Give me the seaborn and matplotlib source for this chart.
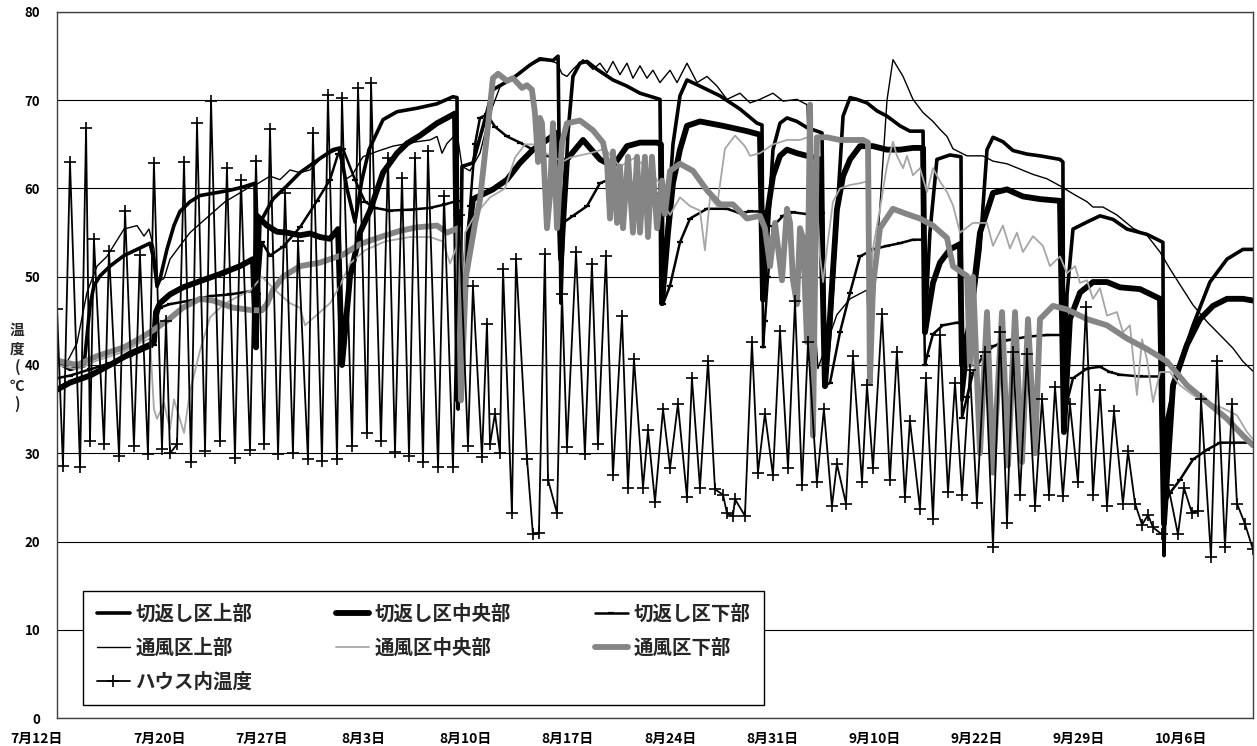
import matplotlib
matplotlib.use("Agg")
import matplotlib.pyplot as plt
import matplotlib.transforms as mtransforms
import pandas as pd
import seaborn as sns

# ---------------- data (x = days from the first record, y = temperature in degC) ----------------
DATE_LABELS = ["7月12日", "7月20日", "7月27日", "8月3日", "8月10日", "8月17日",
               "8月24日", "8月31日", "9月10日", "9月22日", "9月29日", "10月6日"]
TICK_DAYS = [0, 7, 14, 21, 28, 35, 42, 49, 56, 63, 70, 77]

NAMES = ["切返し区上部", "切返し区中央部", "切返し区下部",
         "通風区上部", "通風区中央部", "通風区下部", "ハウス内温度"]

A_DAY = [0.00, 0.89, 1.85, 2.26, 2.53, 2.95, 3.63, 4.59, 5.48, 6.37, 6.64, 6.85, 7.05, 7.53, 8.01, 8.42,
         9.11, 9.79, 10.48, 11.85, 12.81, 13.56, 13.63, 13.70, 13.90, 14.79, 15.75, 16.64, 18.01, 18.90,
         19.38, 19.86, 20.41, 20.89, 21.37, 22.33, 23.29, 24.66, 26.03, 27.12, 27.40, 27.47, 27.60, 27.74,
         28.49, 29.18, 29.86, 31.23, 32.40, 33.08, 33.97, 34.32, 34.52, 34.66, 35.00, 35.34, 35.82, 36.30,
         36.99, 38.08, 39.04, 39.93, 41.30, 41.44, 41.78, 42.19, 42.67, 43.15, 44.04, 45.41, 46.78, 47.95,
         48.29, 48.36, 48.63, 49.04, 49.52, 50.00, 50.68, 51.37, 52.40, 52.60, 52.95, 53.42, 53.84, 54.32,
         54.79, 55.48, 56.16, 56.85, 57.74, 58.42, 59.32, 59.45, 59.79, 60.27, 61.16, 61.92, 61.99, 62.40,
         63.22, 63.70, 64.11, 64.79, 65.48, 66.44, 67.33, 68.70, 68.90, 68.97, 69.18, 69.59, 70.55, 71.44,
         72.33, 73.29, 74.66, 75.75, 75.82, 76.03, 76.71, 77.81, 78.97, 80.14, 81.23, 81.92]
A_TEMP = [40.3, 39.5, 39.9, 46.7, 49.0, 50.1, 51.2, 52.4, 53.1, 53.8, 51.9, 48.9, 49.7, 53.1, 55.8, 57.4,
          58.5, 59.2, 59.4, 59.8, 60.2, 60.6, 42.0, 45.0, 56.1, 58.8, 60.3, 61.8, 63.4, 64.4,
          64.6, 60.0, 56.2, 61.0, 64.4, 67.8, 68.7, 69.1, 69.6, 70.4, 70.3, 35.0, 45.0, 62.5,
          62.9, 67.0, 71.2, 72.5, 74.0, 74.7, 74.5, 75.0, 47.0, 55.0, 66.3, 72.7, 74.2, 74.4,
          73.5, 72.3, 71.6, 70.8, 70.1, 47.0, 55.0, 65.0, 70.5, 72.3, 71.6, 70.5, 69.0, 67.4,
          67.2, 47.4, 53.1, 64.4, 67.4, 68.0, 67.6, 66.9, 66.3, 37.6, 43.7, 56.9, 68.2, 70.3,
          70.1, 69.7, 68.8, 68.2, 67.1, 66.5, 66.5, 43.7, 55.0, 63.3, 63.8, 63.6, 36.0, 42.0,
          53.1, 64.4, 65.8, 65.3, 64.3, 63.9, 63.7, 63.3, 63.0, 32.4, 48.0, 55.4, 56.2, 56.9,
          56.5, 55.4, 54.8, 53.9, 18.4, 33.9, 39.2, 44.5, 49.4, 52.0, 53.1, 53.1]

B_DAY = [0.00, 0.89, 2.26, 3.63, 5.00, 6.37, 6.64, 6.78, 7.05, 7.74, 8.63, 9.79, 11.16, 12.53, 13.42, 13.63,
         13.70, 14.38, 15.07, 15.75, 16.64, 17.33, 18.01, 18.70, 19.25, 19.52, 20.07, 20.75, 21.44, 22.33,
         23.29, 23.97, 24.86, 26.03, 26.71, 27.26, 27.47, 27.74, 28.01, 28.49, 29.86, 30.82, 31.71, 32.60,
         33.56, 34.25, 34.52, 34.73, 34.93, 36.03, 37.19, 38.08, 39.04, 39.93, 41.10, 41.37, 41.44, 41.85,
         42.19, 42.67, 43.15, 44.04, 45.62, 47.26, 48.15, 48.36, 48.63, 49.04, 49.52, 50.00, 50.68, 51.37,
         52.26, 52.60, 52.95, 53.42, 53.84, 54.32, 55.00, 55.89, 56.85, 57.74, 58.63, 59.32, 59.45, 60.00,
         60.48, 61.16, 61.85, 61.99, 62.53, 63.22, 64.11, 65.07, 66.16, 67.33, 68.70, 68.97, 69.38, 70.07,
         70.96, 71.92, 72.81, 74.18, 75.55, 75.82, 76.44, 77.40, 78.29, 79.18, 80.14, 81.23, 81.92]
B_TEMP = [37.2, 38.0, 38.8, 40.0, 41.3, 42.3, 42.6, 46.0, 47.0, 48.0, 48.8, 49.5, 50.3, 51.2, 52.0, 42.0,
          56.9, 55.8, 55.1, 55.0, 54.7, 54.9, 54.5, 54.3, 55.4, 40.0, 50.0, 55.0, 57.5, 61.8,
          64.0, 65.1, 66.0, 67.4, 68.0, 68.5, 36.0, 45.0, 52.0, 58.8, 59.9, 61.0, 62.9, 64.4,
          65.5, 66.3, 52.0, 58.0, 63.3, 65.5, 63.3, 62.5, 64.8, 65.2, 65.2, 65.0, 47.0, 55.0,
          60.6, 64.4, 67.1, 67.6, 67.1, 66.5, 66.1, 47.4, 56.9, 61.4, 63.7, 64.4, 64.0, 63.7,
          63.3, 37.6, 45.5, 57.6, 61.4, 63.3, 64.8, 64.8, 64.4, 64.4, 64.6, 64.6, 43.7, 49.3,
          51.6, 53.1, 53.7, 40.0, 45.0, 55.0, 59.5, 59.9, 59.1, 58.8, 58.6, 32.4, 45.2, 48.2,
          49.4, 49.4, 48.8, 48.6, 47.5, 22.0, 37.7, 42.3, 45.2, 46.7, 47.5, 47.5, 47.3]

C_DAY = [0.00, 0.89, 2.26, 3.63, 5.00, 6.37, 6.64, 6.78, 7.05, 7.74, 9.11, 10.48, 11.85, 13.42, 13.63, 13.77,
         14.04, 14.59, 15.48, 16.64, 17.81, 18.70, 19.25, 19.59, 20.41, 21.10, 21.78, 22.81, 24.18, 25.55,
         26.58, 27.40, 27.47, 27.74, 28.01, 28.29, 28.63, 28.97, 29.45, 30.00, 30.82, 31.71, 32.60, 33.56,
         34.32, 34.52, 34.66, 35.34, 36.30, 37.19, 38.08, 39.04, 39.93, 40.82, 41.37, 41.44, 41.51, 41.99,
         42.67, 43.36, 44.52, 45.89, 46.78, 47.47, 48.29, 48.36, 48.49, 48.70, 49.04, 49.73, 50.41, 51.37,
         52.40, 52.60, 52.95, 53.63, 54.32, 55.00, 55.89, 56.85, 57.74, 58.63, 59.32, 59.45, 59.59, 60.00,
         60.68, 61.64, 61.92, 61.99, 62.33, 62.74, 63.42, 64.11, 65.07, 66.44, 67.81, 68.84, 68.97, 69.18,
         69.59, 70.55, 71.44, 72.12, 72.81, 74.18, 75.68, 75.82, 76.23, 76.92, 77.81, 78.77, 79.66, 80.55,
         81.92]
C_TEMP = [38.5, 38.8, 39.5, 40.2, 41.0, 42.0, 42.3, 45.0, 46.5, 46.9, 47.3, 47.8, 48.0, 48.4, 42.0, 48.0,
          53.9, 52.4, 53.4, 55.6, 58.6, 61.0, 63.9, 64.5, 61.0, 58.5, 57.8, 57.5, 57.6, 57.8,
          58.2, 58.6, 36.0, 40.0, 50.0, 58.0, 65.0, 68.0, 68.4, 67.0, 65.9, 65.2, 64.4, 63.7,
          63.5, 55.0, 56.1, 56.9, 58.0, 60.6, 61.2, 60.8, 60.3, 59.7, 59.1, 47.0, 46.9, 49.0,
          53.9, 56.6, 57.7, 57.7, 57.2, 57.4, 57.4, 42.0, 45.0, 50.0, 55.7, 56.9, 57.3, 57.1,
          57.2, 37.6, 38.0, 43.7, 48.2, 52.3, 53.1, 53.5, 53.8, 54.2, 54.2, 40.0, 41.0, 43.5,
          44.5, 44.8, 44.8, 34.0, 36.4, 39.1, 41.0, 42.1, 42.8, 43.2, 43.4, 43.4, 33.0, 35.8,
          38.5, 39.6, 39.8, 39.2, 38.9, 38.7, 38.7, 24.0, 25.5, 27.0, 29.3, 30.4, 31.2, 31.2,
          31.2]

VU_DAY = [0.00, 0.68, 1.37, 2.05, 2.74, 3.42, 4.59, 5.48, 5.96, 6.30, 6.64, 6.85, 7.33, 7.74, 8.42, 9.11,
          9.79, 10.48, 11.51, 12.53, 13.22, 13.70, 14.59, 15.27, 15.96, 16.64, 17.33, 18.01, 18.70, 19.25,
          19.73, 20.21, 20.96, 21.92, 23.01, 24.66, 25.55, 26.03, 26.37, 26.71, 27.40, 27.74, 28.29, 28.97,
          29.66, 30.34, 31.03, 31.71, 32.40, 33.08, 33.77, 34.25, 34.59, 34.93, 35.34, 36.03, 36.71, 37.19,
          37.67, 38.08, 38.56, 39.04, 39.45, 39.93, 40.41, 40.82, 41.30, 41.99, 42.47, 43.15, 43.84, 44.52,
          45.21, 45.89, 46.78, 47.47, 48.15, 49.04, 49.73, 50.68, 51.37, 51.71, 52.12, 53.42, 54.32, 55.48,
          55.68, 56.37, 56.85, 57.26, 57.95, 58.63, 59.32, 60.00, 60.48, 60.96, 61.37, 62.33, 63.42, 64.11,
          65.07, 65.96, 66.85, 67.81, 68.70, 69.59, 70.55, 70.96, 71.64, 72.60, 73.70, 74.66, 75.55, 76.23,
          76.92, 77.81, 78.77, 79.66, 80.55, 81.23, 81.92]
VU_TEMP = [39.9, 40.3, 42.5, 48.2, 51.2, 52.3, 55.4, 55.8, 54.6, 55.4, 53.2, 49.4, 49.8, 52.0, 53.5, 55.0,
           56.0, 57.0, 58.5, 59.5, 60.2, 60.5, 61.4, 61.0, 62.1, 61.8, 62.1, 63.3, 64.0, 64.4,
           61.0, 61.5, 63.6, 64.2, 64.8, 65.3, 65.5, 65.9, 64.0, 65.1, 66.3, 62.5, 62.0, 64.0,
           68.5, 71.5, 72.5, 73.0, 74.0, 74.5, 74.5, 74.2, 73.0, 72.7, 73.5, 74.6, 73.5, 74.2,
           73.1, 74.4, 72.9, 74.2, 72.5, 73.9, 72.5, 73.4, 72.0, 73.4, 72.0, 74.2, 72.0, 72.7,
           71.6, 70.1, 70.8, 69.7, 70.1, 70.8, 69.9, 70.1, 69.5, 50.0, 39.6, 45.7, 47.5, 48.5,
           40.0, 58.0, 70.0, 74.6, 72.7, 70.1, 68.6, 67.6, 66.7, 65.9, 64.5, 63.7, 63.7, 63.1,
           62.8, 62.2, 61.6, 61.1, 60.3, 59.4, 58.5, 57.9, 57.9, 57.0, 55.5, 54.7, 52.8, 50.9,
           49.1, 46.8, 44.9, 43.4, 41.9, 40.4, 39.3]

VC_DAY = [0.00, 1.37, 2.74, 4.59, 5.68, 6.37, 6.64, 6.85, 7.33, 7.74, 8.01, 8.70, 9.11, 9.79, 10.48, 11.44,
          12.33, 13.22, 14.04, 14.93, 15.96, 16.64, 16.99, 17.67, 18.70, 19.38, 20.07, 21.10, 22.47, 24.18,
          25.55, 26.44, 26.92, 27.40, 27.67, 27.95, 28.63, 29.66, 30.68, 31.37, 32.05, 32.74, 33.42, 34.11,
          34.59, 35.14, 36.51, 37.53, 38.56, 39.59, 40.62, 41.30, 41.64, 41.99, 42.67, 43.36, 44.04, 44.38,
          44.73, 45.21, 45.75, 46.44, 47.12, 47.47, 48.15, 49.04, 50.00, 50.89, 51.58, 51.71, 52.05, 52.26,
          52.47, 52.74, 53.15, 53.63, 54.32, 55.00, 55.48, 55.55, 55.68, 55.89, 56.37, 56.85, 57.26, 57.53,
          57.95, 58.22, 58.63, 59.11, 59.59, 60.00, 60.48, 60.96, 61.37, 61.85, 62.74, 63.70, 64.11, 64.79,
          65.27, 65.75, 66.16, 66.85, 67.53, 68.01, 68.70, 69.18, 69.73, 70.07, 70.55, 70.96, 71.44, 71.92,
          72.60, 73.01, 73.49, 73.97, 74.32, 74.66, 75.07, 75.55, 76.23, 76.92, 77.81, 78.77, 79.86, 80.82,
          81.51, 81.92]
VC_TEMP = [40.0, 39.5, 40.5, 41.5, 42.5, 43.0, 35.0, 33.9, 35.7, 32.7, 36.1, 32.3, 37.0, 41.6, 45.4, 46.9,
           47.7, 48.4, 50.0, 48.5, 47.0, 46.5, 44.5, 45.5, 47.0, 49.0, 51.5, 53.0, 54.0, 54.5,
           54.5, 54.0, 51.5, 53.5, 40.0, 55.0, 57.0, 59.0, 60.0, 63.5, 65.0, 65.0, 64.0, 63.5,
           63.0, 63.5, 64.0, 64.5, 62.5, 63.5, 62.0, 60.5, 58.0, 57.0, 59.0, 58.0, 57.5, 53.0,
           59.0, 58.0, 64.5, 66.0, 64.8, 63.7, 64.0, 65.0, 65.5, 65.5, 65.9, 63.7, 58.8, 52.4,
           49.4, 53.2, 58.5, 60.0, 60.4, 60.6, 60.8, 60.0, 47.9, 53.2, 57.7, 62.6, 65.3, 63.7,
           62.3, 63.7, 61.5, 62.3, 59.6, 62.3, 60.8, 59.6, 58.1, 55.0, 56.1, 56.1, 53.5, 55.8,
           53.2, 55.0, 52.8, 54.6, 53.5, 51.2, 52.3, 50.4, 51.2, 49.3, 49.6, 47.5, 48.7, 45.6,
           46.0, 43.7, 44.5, 36.6, 42.9, 40.6, 35.8, 39.2, 39.2, 37.7, 36.6, 35.8, 35.1, 34.3,
           32.4, 31.6]

VL_DAY = [0.00, 1.37, 2.74, 4.59, 5.68, 6.64, 7.53, 8.63, 9.79, 10.68, 12.05, 13.42, 14.04, 14.38, 14.79,
          15.48, 16.64, 18.01, 19.59, 20.75, 22.33, 23.49, 24.66, 26.03, 26.71, 27.47, 27.67, 28.01, 28.63,
          28.97, 29.45, 29.86, 30.21, 30.82, 31.23, 31.85, 32.19, 32.53, 32.74, 32.95, 33.08, 33.22, 33.56,
          33.77, 33.97, 34.25, 34.59, 34.93, 35.82, 36.71, 37.40, 37.67, 37.88, 38.08, 38.36, 38.56, 38.77,
          39.11, 39.45, 39.73, 39.93, 40.27, 40.48, 40.75, 41.10, 41.44, 41.64, 41.99, 42.67, 43.56, 44.52,
          45.41, 46.30, 47.26, 48.15, 48.49, 48.84, 49.18, 49.38, 49.66, 50.00, 50.21, 50.41, 50.68, 50.89,
          51.10, 51.37, 51.58, 51.78, 52.05, 52.74, 53.63, 54.52, 55.21, 55.55, 55.68, 55.89, 56.37, 57.26,
          58.22, 59.11, 60.00, 60.96, 61.37, 62.05, 62.33, 62.53, 62.74, 63.22, 63.70, 64.11, 64.73, 65.14,
          65.62, 66.10, 66.51, 66.99, 67.33, 68.22, 69.18, 70.55, 71.92, 73.29, 74.66, 76.03, 77.40, 78.77,
          80.14, 81.23, 81.92]
VL_TEMP = [40.5, 40.0, 41.0, 42.0, 43.0, 44.0, 45.0, 46.5, 47.5, 47.3, 46.5, 46.2, 46.2, 46.9, 48.5,
           50.0, 51.2, 51.6, 52.5, 53.7, 54.6, 55.2, 55.6, 55.8, 55.0, 55.5, 36.0, 50.0, 56.0,
           58.7, 66.0, 72.5, 73.0, 72.2, 72.5, 71.4, 71.7, 71.2, 68.5, 63.0, 68.0, 67.4, 55.5,
           59.3, 67.4, 55.5, 65.2, 67.4, 67.7, 66.6, 65.2, 63.1, 56.6, 64.2, 56.1, 62.5, 55.5,
           63.6, 55.0, 63.6, 55.0, 63.6, 54.5, 63.6, 55.5, 60.9, 57.1, 62.0, 62.8, 62.0, 59.8,
           58.2, 58.2, 56.6, 56.9, 55.5, 51.2, 56.1, 53.4, 49.6, 57.7, 56.1, 49.6, 46.9, 55.5,
           54.4, 42.6, 69.5, 32.0, 65.8, 65.8, 65.5, 65.5, 65.5, 65.2, 38.0, 49.0, 55.5, 57.7,
           57.1, 56.6, 55.8, 54.4, 51.2, 50.4, 50.1, 40.0, 50.0, 30.0, 46.0, 27.8, 46.0, 28.6,
           46.0, 29.0, 45.2, 30.0, 45.2, 46.7, 46.3, 45.2, 44.5, 43.0, 41.8, 40.4, 37.7, 35.8,
           33.9, 32.0, 30.9]

H_DAY = [0.00, 0.41, 0.89, 1.58, 1.99, 2.26, 2.53, 3.22, 3.56, 4.25, 4.66, 5.27, 5.68, 6.23, 6.64, 7.19,
         7.47, 7.74, 8.22, 8.70, 9.18, 9.59, 10.14, 10.55, 11.16, 11.64, 12.19, 12.60, 13.22, 13.63, 14.18,
         14.59, 15.14, 15.62, 16.16, 16.51, 17.19, 17.53, 18.15, 18.56, 19.18, 19.52, 20.21, 20.62, 21.23,
         21.51, 22.19, 22.67, 23.15, 23.63, 24.11, 24.52, 25.07, 25.41, 26.10, 26.51, 27.12, 27.53, 28.15,
         28.49, 29.11, 29.45, 29.66, 30.00, 30.34, 30.55, 31.16, 31.44, 32.19, 32.60, 33.01, 33.42, 33.63,
         34.25, 34.59, 34.93, 35.55, 36.16, 36.64, 37.05, 37.60, 38.08, 38.70, 39.11, 39.52, 40.14, 40.48,
         40.96, 41.51, 41.99, 42.53, 43.15, 43.49, 44.04, 44.59, 45.07, 45.62, 45.89, 46.30, 46.44, 47.12,
         47.60, 48.01, 48.49, 49.04, 49.52, 50.07, 50.55, 51.03, 51.44, 52.05, 52.53, 53.08, 53.42, 54.04,
         54.52, 55.14, 55.48, 55.89, 56.51, 57.05, 57.53, 58.08, 58.42, 59.11, 59.52, 60.00, 60.48, 61.03,
         61.51, 61.99, 62.53, 63.01, 63.56, 64.11, 64.59, 65.07, 65.48, 65.96, 66.44, 66.99, 67.47, 67.95,
         68.36, 68.90, 69.38, 69.93, 70.48, 70.96, 71.44, 71.92, 72.40, 73.01, 73.36, 73.84, 74.32, 74.73,
         75.07, 75.68, 76.10, 76.78, 77.19, 77.74, 78.15, 78.36, 79.04, 79.45, 80.00, 80.48, 80.82, 81.37,
         81.92]
H_TEMP = [46.4, 28.6, 63.0, 28.4, 66.8, 31.4, 54.3, 31.0, 52.9, 29.7, 57.5, 30.8, 52.5, 29.9, 62.9, 30.5,
          45.0, 30.0, 31.0, 63.0, 29.0, 67.4, 30.3, 69.9, 31.4, 62.3, 29.5, 61.0, 30.4, 63.1, 31.0,
          66.7, 29.9, 59.5, 30.0, 54.0, 29.3, 66.3, 29.1, 70.6, 29.3, 70.3, 30.8, 71.4, 32.3,
          72.0, 31.4, 63.5, 30.1, 61.2, 29.7, 63.5, 29.0, 64.2, 28.4, 59.1, 28.4, 57.0, 30.8,
          48.9, 29.6, 44.7, 31.0, 34.5, 30.0, 50.9, 23.2, 52.0, 29.4, 20.8, 21.0, 52.6, 27.0,
          23.2, 48.0, 30.7, 52.8, 29.9, 51.5, 31.0, 52.3, 27.5, 45.5, 26.1, 40.7, 26.1, 32.6,
          24.5, 35.0, 28.3, 35.6, 25.0, 38.5, 26.1, 40.4, 25.9, 25.3, 23.2, 22.9, 24.8, 22.9,
          42.6, 27.8, 34.5, 27.5, 43.9, 28.3, 47.2, 26.4, 42.6, 26.7, 35.0, 24.0, 28.8, 24.3,
          41.0, 26.7, 37.7, 28.3, 45.8, 27.0, 41.5, 25.0, 33.7, 23.7, 38.5, 22.6, 43.4, 25.6,
          38.0, 25.3, 39.4, 24.4, 41.5, 19.4, 43.7, 22.1, 41.5, 25.3, 41.2, 24.0, 36.1, 25.3,
          37.5, 25.1, 35.6, 26.7, 46.6, 25.3, 37.2, 24.0, 34.8, 24.3, 30.2, 24.3, 21.9, 23.0,
          21.6, 20.8, 26.4, 20.8, 26.1, 23.2, 23.5, 36.1, 18.3, 40.4, 19.4, 35.6, 24.3, 22.0,
          19.1]

# ---------------- styling ----------------
sns.set_theme(style="white")
plt.rcParams["font.family"] = ["Noto Sans CJK JP", "DejaVu Sans"]
plt.rcParams["axes.unicode_minus"] = False

W, H = 1257, 746
fig = plt.figure(figsize=(W / 100, H / 100), dpi=100)
fig.patch.set_facecolor("white")
ax = fig.add_axes([57 / W, 28 / H, 1196 / W, 706 / H])
ax.set_facecolor("white")

series = [
    (NAMES[0], A_DAY, A_TEMP, dict(color="black", linewidth=2.6)),
    (NAMES[1], B_DAY, B_TEMP, dict(color="black", linewidth=4.2)),
    (NAMES[2], C_DAY, C_TEMP, dict(color="black", linewidth=1.8, marker="_", markersize=5,
                                   markeredgewidth=1.6, markeredgecolor="black", markerfacecolor="black")),
    (NAMES[3], VU_DAY, VU_TEMP, dict(color="black", linewidth=1.0)),
    (NAMES[4], VC_DAY, VC_TEMP, dict(color="#a6a6a6", linewidth=1.3)),
    (NAMES[5], VL_DAY, VL_TEMP, dict(color="#858585", linewidth=4.2)),
    (NAMES[6], H_DAY, H_TEMP, dict(color="black", linewidth=1.3, marker="+", markersize=9,
                                   markeredgewidth=1.2, markeredgecolor="black", markerfacecolor="black")),
]

for name, days, temps, st in series:
    df = pd.DataFrame({"day": days, "temp": temps})
    sns.lineplot(data=df, x="day", y="temp", ax=ax, estimator=None, sort=False,
                 label=name, legend=True, **st)

ax.set_xlim(0, 81.92)
ax.set_ylim(0, 80)
ax.set_yticks(range(0, 81, 10))
ax.set_xticks(TICK_DAYS)
ax.set_xticklabels(DATE_LABELS)
ax.set_xlabel("")
ax.set_ylabel("")
ax.yaxis.grid(True, color="black", linewidth=0.8)
ax.xaxis.grid(False)
ax.set_axisbelow(True)
for s in ax.spines.values():
    s.set_color("#404040")
    s.set_linewidth(1.0)
    s.set_visible(True)

ax.tick_params(axis="y", which="both", length=0, pad=12, labelsize=9.5, labelcolor="black")
ax.tick_params(axis="x", which="both", length=0, pad=10, labelsize=10, labelcolor="black")
for lab in ax.get_yticklabels():
    lab.set_fontweight("bold")
for i, lab in enumerate(ax.get_xticklabels()):
    lab.set_fontweight("bold")
    if i == 0:
        lab.set_horizontalalignment("right")
        lab.set_transform(lab.get_transform() + mtransforms.ScaledTranslation(6 / 100, 0, fig.dpi_scale_trans))

fig.text(17 / W, 1 - 367 / H, "温\n度\n(\n℃\n)", ha="center", va="center",
         fontsize=10.5, fontweight="bold", linespacing=1.2, multialignment="center")

handles, labels = ax.get_legend_handles_labels()
order = [0, 3, 6, 1, 4, 2, 5]
leg = ax.legend([handles[i] for i in order], [labels[i] for i in order],
                ncol=3, loc="lower left", mode="expand",
                bbox_to_anchor=((83 - 57) / 1196, (718 - 705) / 706, (764 - 83) / 1196, (705 - 586) / 706),
                borderaxespad=0, fancybox=False, framealpha=1, edgecolor="black",
                prop={"size": 14, "weight": "bold"}, handlelength=1.7, handletextpad=0.3,
                labelspacing=0.75, borderpad=0.7, columnspacing=1.0)
leg.get_frame().set_linewidth(1.0)

fig.savefig("out.png", dpi=100, facecolor="white")
